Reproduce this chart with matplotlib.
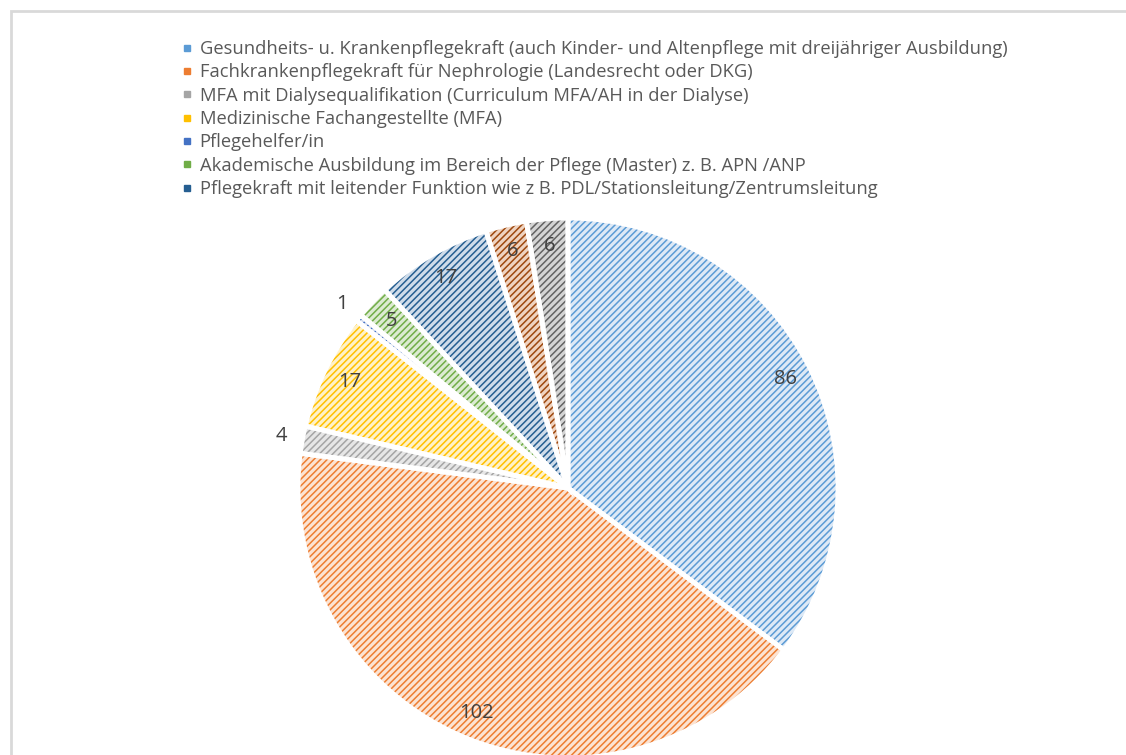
import matplotlib.pyplot as plt
import numpy as np
from matplotlib.patches import Rectangle
from matplotlib.lines import Line2D

plt.rcParams['font.family'] = ['Open Sans', 'DejaVu Sans']
plt.rcParams['hatch.linewidth'] = 1.1

# data, clockwise from 12 o'clock
values = [86, 102, 4, 17, 1, 5, 17, 6, 6]
legend_labels = [
    "Gesundheits- u. Krankenpflegekraft (auch Kinder- und Altenpflege mit dreijähriger Ausbildung)",
    "Fachkrankenpflegekraft für Nephrologie (Landesrecht oder DKG)",
    "MFA mit Dialysequalifikation (Curriculum MFA/AH in der Dialyse)",
    "Medizinische Fachangestellte (MFA)",
    "Pflegehelfer/in",
    "Akademische Ausbildung im Bereich der Pflege (Master) z. B. APN /ANP",
    "Pflegekraft mit leitender Funktion wie z B. PDL/Stationsleitung/Zentrumsleitung",
]
hatch_colors = ['#5b9bd5', '#ed7d31', '#a5a5a5', '#ffc000', '#4472c4',
                '#70ad47', '#255e91', '#9e480e', '#636363']
fill_colors = ['#dde9f6', '#fce3d2', '#e6e6e6', '#fff2c8', '#d6def0',
               '#dcebd2', '#cfdcea', '#efd3c0', '#d4d4d4']

W, H = 1126, 755
fig = plt.figure(figsize=(W / 100, H / 100), dpi=100)
ax = fig.add_axes([0, 0, 1, 1])

cx, cy, r = 568, H - 488, 270

wedges, _ = ax.pie(values, colors=fill_colors, startangle=90, counterclock=False,
                   center=(cx, cy), radius=r, frame=True,
                   wedgeprops=dict(linewidth=0))
for w, hc in zip(wedges, hatch_colors):
    w.set_hatch('/////')
    w.set_edgecolor(hc)

# white separators on top
ax.pie(values, colors=['none'] * len(values), startangle=90, counterclock=False,
       center=(cx, cy), radius=r, frame=True,
       wedgeprops=dict(linewidth=3.5, edgecolor='white'))

# data labels
total = sum(values)
start = 0
for v in values:
    mid = (start + v / 2) / total * 2 * np.pi
    start += v
    d = 1.08 if v < 5 else 0.9
    x = cx + d * r * np.sin(mid)
    y = cy + d * r * np.cos(mid)
    ax.text(x, y, str(v), ha='center', va='center', fontsize=14.5, color='#404040')

ax.set_xlim(0, W)
ax.set_ylim(0, H)
ax.set_aspect('auto')
ax.axis('off')

# chart area border
ax.add_patch(Rectangle((11, -5), W, H - 11 + 5, fill=False, edgecolor='#d9d9d9', linewidth=2))

# legend
handles = [Line2D([0], [0], marker='s', linestyle='none', markersize=5,
                  markerfacecolor=c, markeredgecolor=c) for c in hatch_colors[:7]]
fig.legend(handles, legend_labels, loc='upper left', bbox_to_anchor=(172 / W, 1 - 31 / H),
           frameon=False, fontsize=13.2, labelcolor='#595959', handlelength=0.6,
           handletextpad=0.4, labelspacing=0.29, borderpad=0)

fig.savefig('out.png', dpi=100)
